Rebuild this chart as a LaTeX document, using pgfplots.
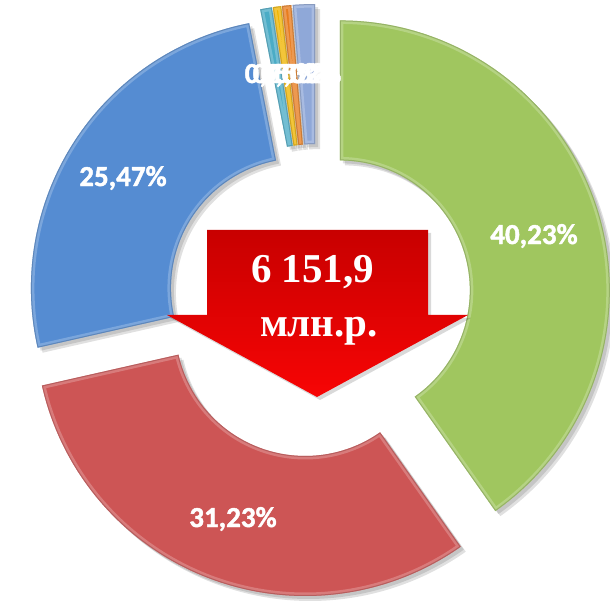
\documentclass[border=0pt]{standalone}
\usepackage{pgfplots}
\pgfplotsset{compat=1.18}
\usepackage{pgfplotstable}
\usepackage{fontspec}
\setmainfont{Carlito}
\newfontfamily\lblfont{Carlito}[UprightFont=*-Bold, FakeBold=1.5]
\newfontfamily\serifb{Liberation Serif}[BoldFont={Liberation Serif Bold}]
\definecolor{cG}{RGB}{160,198,95}
\definecolor{cR}{RGB}{205,85,85}
\definecolor{cB}{RGB}{85,140,210}
\definecolor{cT}{RGB}{75,172,198}
\definecolor{cY}{RGB}{240,180,0}
\definecolor{cO}{RGB}{232,124,30}
\definecolor{cL}{RGB}{143,168,216}
\definecolor{arDark}{RGB}{200,0,0}
\definecolor{arRed}{RGB}{255,5,5}

% share (%), explode offset, label x, label y
\pgfplotstableread{
v     d   lx   ly
40.23 25  534  365
31.23 30  233  82
25.47 18  123  423
0.70  24  281  526
0.50  24  289  526
0.55  24  297  526
1.32  24  305  526
}\data

\begin{document}
\begin{tikzpicture}
\begin{axis}[scale only axis, width=610pt, height=601pt,
  xmin=0, xmax=610, ymin=0, ymax=601, hide axis, clip=false]
\addplot[draw=none] coordinates {(0,0) (610,601)};
\pgfplotsextra{
  \coordinate (bl) at (axis cs:0,0);
  \coordinate (tr) at (axis cs:610,601);
  \begin{scope}
  \clip (axis cs:0,0) rectangle (axis cs:610,601);
  \xdef\cum{0}
  \foreach \i/\col in {0/cG,1/cR,2/cB,3/cT,4/cY,5/cO,6/cL}{
    \pgfplotstablegetelem{\i}{v}\of\data \pgfmathsetmacro\segv{\pgfplotsretval}
    \pgfplotstablegetelem{\i}{d}\of\data \pgfmathsetmacro\segd{\pgfplotsretval}
    \pgfmathsetmacro\aA{90-3.6*\cum}
    \pgfmathsetmacro\aB{90-3.6*(\cum+\segv)}
    \pgfmathsetmacro\am{(\aA+\aB)/2}
    \pgfmathsetmacro\ccx{316+\segd*cos(\am)}
    \pgfmathsetmacro\ccy{303+\segd*sin(\am)}
    \pgfmathsetmacro\xA{\ccx+270*cos(\aA)}
    \pgfmathsetmacro\yA{\ccy+270*sin(\aA)}
    \pgfmathsetmacro\xB{\ccx+130*cos(\aB)}
    \pgfmathsetmacro\yB{\ccy+130*sin(\aB)}
    \pgfmathsetmacro\tmp{\cum+\segv}\xdef\cum{\tmp}
    \def\segpath{(axis cs:\xA,\yA) arc[start angle=\aA,end angle=\aB,radius=270pt]
       -- (axis cs:\xB,\yB) arc[start angle=\aB,end angle=\aA,radius=130pt] -- cycle}
    \fill[black,opacity=.12,xshift=5pt,yshift=-5pt] \segpath;
    \fill[black,opacity=.12,xshift=3pt,yshift=-3pt] \segpath;
    \fill[\col] \segpath;
    \begin{scope}
      \clip \segpath;
      \draw[\col!55!white,line width=7pt,opacity=.5] \segpath;
      \draw[\col!70!black,line width=2pt,opacity=.45] \segpath;
    \end{scope}
  }
  \end{scope}
  % central arrow
  \fill[black,opacity=.15,xshift=3pt,yshift=-3pt]
    (axis cs:207,371) -- (axis cs:428,371) -- (axis cs:428,286) -- (axis cs:468,286)
    -- (axis cs:317,204) -- (axis cs:167,286) -- (axis cs:207,286) -- cycle;
  \shade[top color=arDark, middle color=arRed, bottom color=arRed!97!black]
    (axis cs:207,371) -- (axis cs:428,371) -- (axis cs:428,286) -- (axis cs:468,286)
    -- (axis cs:317,204) -- (axis cs:167,286) -- (axis cs:207,286) -- cycle;
  \node[white,font=\serifb\bfseries\fontsize{41}{45}\selectfont,anchor=base]
    at (axis cs:312.5,318) {6 151,9};
  \node[white,font=\serifb\bfseries\fontsize{41}{45}\selectfont,anchor=base]
    at (axis cs:319,264) {млн.р.};
  % labels
  \foreach \i/\t in {0/{40,23\%},1/{31,23\%},2/{25,47\%},3/{0,70\%},4/{0,50\%},5/{0,55\%},6/{1,32\%}}{
    \pgfplotstablegetelem{\i}{lx}\of\data \let\lx\pgfplotsretval
    \pgfplotstablegetelem{\i}{ly}\of\data \let\ly\pgfplotsretval
    \node[white,font=\lblfont\fontsize{29}{32}\selectfont] at (axis cs:\lx,\ly) {\t};
  }
}
\end{axis}
\pgfresetboundingbox
\path (bl) rectangle (tr);
\end{tikzpicture}
\end{document}
